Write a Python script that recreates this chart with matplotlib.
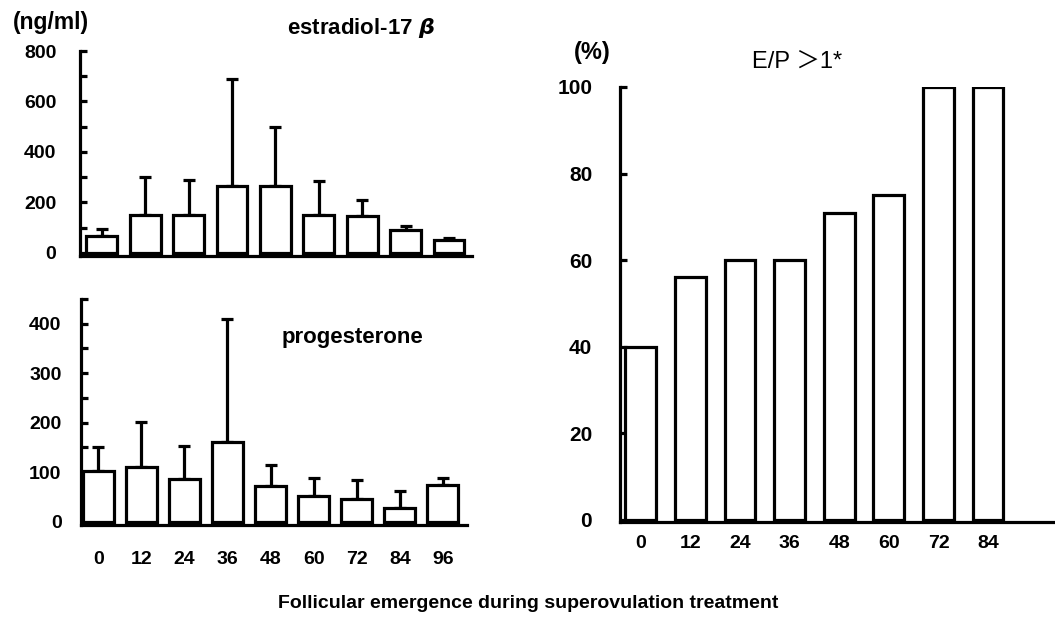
import numpy as np
import matplotlib
matplotlib.use("Agg")
import matplotlib.pyplot as plt
from matplotlib.ticker import MultipleLocator

plt.rcParams['font.family'] = ['Liberation Sans', 'Noto Sans CJK JP', 'DejaVu Sans']
plt.rcParams['font.weight'] = 'bold'
plt.rcParams['mathtext.default'] = 'it'

# hours after follicular emergence
hours = ['0', '12', '24', '36', '48', '60', '72', '84', '96']

# estradiol-17 beta (ng/ml), mean and SD
e2_mean = [67, 150, 150, 265, 265, 150, 148, 92, 50]
e2_sd = [28, 150, 140, 425, 235, 135, 62, 16, 10]

# progesterone (ng/ml), mean and SD
p4_mean = [102, 111, 87, 161, 72, 51, 45, 28, 73]
p4_sd = [48, 91, 65, 249, 43, 38, 40, 34, 15]

# percentage of follicles with E/P > 1
ep_hours = ['0', '12', '24', '36', '48', '60', '72', '84']
ep_pct = [40, 56, 60, 60, 71, 75, 100, 100]

W, H = 1055, 622
LW = 2.3


def px_axes(fig, x0, x1, ytop, ybot):
    """Add axes from pixel edges of the reference picture."""
    return fig.add_axes([x0 / W, 1 - ybot / H, (x1 - x0) / W, (ybot - ytop) / H])


def style(ax, ysize=14, ypad=16, xsize=14, xpad=19):
    for s in ['top', 'right']:
        ax.spines[s].set_visible(False)
    for s in ['left', 'bottom']:
        ax.spines[s].set_linewidth(LW)
    ax.tick_params(axis='y', which='both', direction='in', length=5, width=LW,
                   labelsize=ysize, pad=ypad)
    ax.tick_params(axis='x', length=0, labelsize=xsize, pad=xpad)


def bars(ax, mean, sd, width):
    x = np.arange(len(mean))
    ax.bar(x, mean, width=width, facecolor='white', edgecolor='black', linewidth=LW, zorder=3)
    if sd is not None:
        ax.errorbar(x, mean, yerr=[np.zeros(len(sd)), sd], fmt='none', ecolor='black',
                    elinewidth=LW, capsize=4.5, capthick=LW, zorder=2)
    return x


fig = plt.figure(figsize=(W / 100, H / 100), dpi=100)

# estradiol panel
ax1 = px_axes(fig, 80, 472, 51, 256)
x = bars(ax1, e2_mean, e2_sd, 0.71)
ax1.set_xlim(-0.5, 8.53)
ax1.set_ylim(-12, 800)
ax1.yaxis.set_major_locator(MultipleLocator(200))
ax1.yaxis.set_minor_locator(MultipleLocator(100))
ax1.set_xticks(x)
ax1.set_xticklabels([])
style(ax1, ypad=17)

# progesterone panel
ax2 = px_axes(fig, 81, 467, 299, 525)
x = bars(ax2, p4_mean, p4_sd, 0.72)
ax2.set_xlim(-0.4, 8.56)
ax2.set_ylim(-7, 450)
ax2.yaxis.set_major_locator(MultipleLocator(100))
ax2.yaxis.set_minor_locator(MultipleLocator(50))
ax2.set_xticks(x)
ax2.set_xticklabels(hours)
style(ax2, ypad=14, xpad=19)

# E/P panel
ax3 = px_axes(fig, 620, 1055, 87, 522)
x = bars(ax3, ep_pct, None, 0.62)
ax3.set_xlim(-0.42, 8.35)
ax3.set_ylim(-0.5, 100)
ax3.yaxis.set_major_locator(MultipleLocator(20))
ax3.set_xticks(x)
ax3.set_xticklabels(ep_hours)
style(ax3, ysize=15, ypad=20, xsize=14, xpad=9)

fig.text(51 / W, 1 - 22 / H, '(ng/ml)', ha='center', va='center', fontsize=16.5)
fig.text(361 / W, 1 - 28 / H, 'estradiol-17 $\\beta$', ha='center', va='center', fontsize=16)
fig.text(352 / W, 1 - 338 / H, 'progesterone', ha='center', va='center', fontsize=16)
fig.text(592 / W, 1 - 52 / H, '(%)', ha='center', va='center', fontsize=17)
fig.text(797 / W, 1 - 62 / H, 'E/P ＞1*', ha='center', va='center', fontsize=17,
         fontweight='normal')
fig.text(528 / W, 1 - 604 / H, 'Follicular emergence during superovulation treatment',
         ha='center', va='center', fontsize=14)

fig.savefig('out.png', dpi=100)
